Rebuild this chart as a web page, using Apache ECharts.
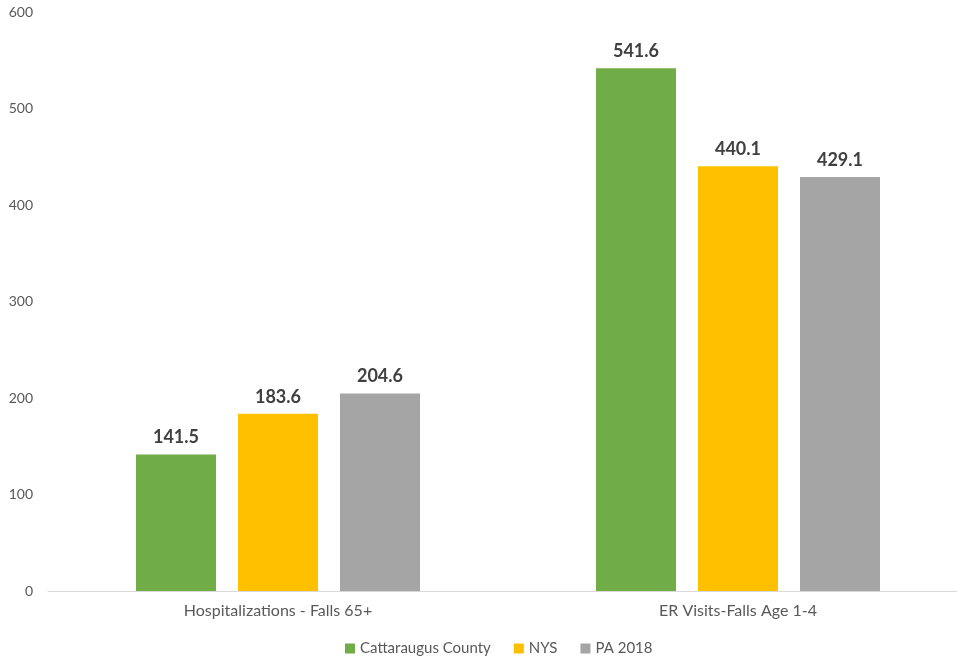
<!DOCTYPE html>
<html>
<head>
<meta charset="utf-8">
<script src="https://cdn.jsdelivr.net/npm/echarts@6/dist/echarts.min.js"></script>
<style>
  html, body { margin: 0; padding: 0; background: #ffffff; }
  #chart { width: 957px; height: 659px; }
</style>
</head>
<body>
<div id="chart"></div>
<script>
// Fall-related rates by area
const categories = ['Hospitalizations - Falls 65+', 'ER Visits-Falls Age 1-4'];
const cattaraugus = [141.5, 541.6];
const nys = [183.6, 440.1];
const pa2018 = [204.6, 429.1];
const seriesNames = ['Cattaraugus County', 'NYS', 'PA 2018'];
const yTicks = { min: 0, max: 600, interval: 100 };

const font = 'Lato, "Open Sans", sans-serif';

function barSeries(name, data, color) {
  return {
    name: name,
    type: 'bar',
    data: data,
    barWidth: 80,
    barGap: '27.5%',
    itemStyle: { color: color },
    label: {
      show: true,
      position: 'top',
      distance: 8,
      color: '#404040',
      fontFamily: font,
      fontWeight: 'bold',
      fontSize: 18,
      formatter: p => p.value.toFixed(1)
    }
  };
}

const chart = echarts.init(document.getElementById('chart'));
chart.setOption({
  animation: false,
  backgroundColor: '#ffffff',
  grid: { left: 48, top: 12, width: 920, bottom: 68, containLabel: false, outerBoundsMode: 'none' },
  legend: {
    top: 636,
    left: 340,
    itemWidth: 10,
    itemHeight: 10,
    itemGap: 23,
    icon: 'rect',
    textStyle: { color: '#595959', fontFamily: font, fontSize: 15 },
    data: seriesNames
  },
  xAxis: {
    type: 'category',
    data: categories,
    axisTick: { show: false },
    axisLine: { lineStyle: { color: '#d9d9d9', width: 1 } },
    axisLabel: { color: '#595959', fontFamily: font, fontSize: 16, margin: 12 }
  },
  yAxis: {
    type: 'value',
    min: yTicks.min,
    max: yTicks.max,
    interval: yTicks.interval,
    splitLine: { show: false },
    axisLine: { show: false },
    axisTick: { show: false },
    axisLabel: { color: '#595959', fontFamily: font, fontSize: 14, margin: 15 }
  },
  series: [
    barSeries(seriesNames[0], cattaraugus, '#70AD47'),
    barSeries(seriesNames[1], nys, '#FFC000'),
    barSeries(seriesNames[2], pa2018, '#A5A5A5')
  ]
});
</script>
</body>
</html>
